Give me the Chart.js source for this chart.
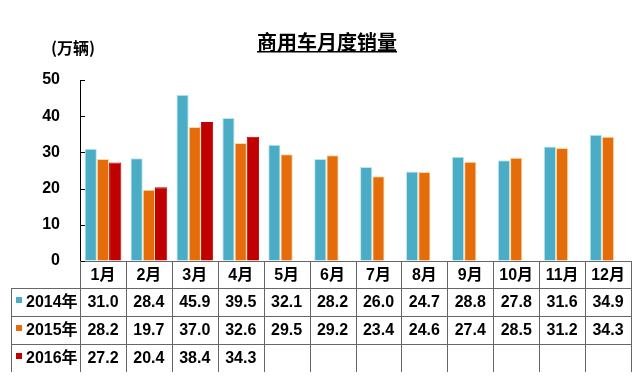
<!DOCTYPE html>
<html>
<head>
<meta charset="utf-8">
<script src="https://cdn.jsdelivr.net/npm/chart.js@4/dist/chart.umd.min.js"></script>
<style>
    html, body { margin: 0; padding: 0; background: #fff; }
    canvas { display: block; }
</style>
</head>
<body>
<canvas id="chart" width="640" height="379"></canvas>
<script>
var months = ['1月', '2月', '3月', '4月', '5月', '6月', '7月', '8月', '9月', '10月', '11月', '12月'];
var years = ['2014年', '2015年', '2016年'];
var sales2014 = [31.0, 28.4, 45.9, 39.5, 32.1, 28.2, 26.0, 24.7, 28.8, 27.8, 31.6, 34.9];
var sales2015 = [28.2, 19.7, 37.0, 32.6, 29.5, 29.2, 23.4, 24.6, 27.4, 28.5, 31.2, 34.3];
var sales2016 = [27.2, 20.4, 38.4, 34.3, null, null, null, null, null, null, null, null];
var yTicks = [0, 10, 20, 30, 40, 50];

var colors = ['#4BACC6', '#E46C0A', '#C00000'];
var edges = ['#bfe6ee', '#f6dca6', '#c00000'];
var font = '"Liberation Sans", "Noto Sans CJK SC", sans-serif';

// title, unit label, inward ticks and the data table under the bars
var decorations =
{
    id: 'decorations',
    afterDraw: function (chart)
    {
        var ctx = chart.ctx, x = chart.scales.x, y = chart.scales.y, area = chart.chartArea;
        var series = [sales2014, sales2015, sales2016];

        ctx.save();
        ctx.fillStyle = '#000';
        ctx.textBaseline = 'middle';

        ctx.font = 'bold 20px "Noto Sans CJK SC", sans-serif';
        ctx.textAlign = 'center';
        ctx.fillText('商用车月度销量', 327, 42);
        var w = ctx.measureText('商用车月度销量').width;
        ctx.fillRect(327 - w / 2, 51, w, 1.5);

        ctx.font = 'bold 16px "Noto Sans CJK SC", sans-serif';
        ctx.fillText('(万辆)', 73, 48);

        ctx.strokeStyle = '#000';
        ctx.lineWidth = 1;
        yTicks.forEach(function (v)
        {
            var py = Math.round(y.getPixelForValue(v)) + 0.5;
            ctx.beginPath();
            ctx.moveTo(area.left, py);
            ctx.lineTo(area.left + 5, py);
            ctx.stroke();
        });

        var rows = [area.bottom, 288, 316, 344, 372];
        var half = (x.getPixelForValue(1) - x.getPixelForValue(0)) / 2;

        ctx.strokeStyle = '#666';
        for (var r = 1; r < 4; r++)
        {
            ctx.beginPath();
            ctx.moveTo(11, rows[r] + 0.5);
            ctx.lineTo(area.right, rows[r] + 0.5);
            ctx.stroke();
        }

        ctx.beginPath();
        ctx.moveTo(11.5, rows[1]);
        ctx.lineTo(11.5, rows[4]);
        for (var i = 0; i <= months.length; i++)
        {
            var bx = Math.round(x.getPixelForValue(i) - half) + 0.5;
            ctx.moveTo(bx, rows[0]);
            ctx.lineTo(bx, rows[4]);
        }
        ctx.stroke();

        ctx.font = 'bold 16px ' + font;
        ctx.textAlign = 'center';
        months.forEach(function (m, i)
        {
            var cx = x.getPixelForValue(i);
            ctx.fillText(m, cx, (rows[0] + rows[1]) / 2 + 1);

            series.forEach(function (s, k)
            {
                if (s[i] != null) ctx.fillText(s[i].toFixed(1), cx, (rows[k + 1] + rows[k + 2]) / 2 + 1);
            });
        });

        ctx.textAlign = 'left';
        years.forEach(function (label, k)
        {
            ctx.fillStyle = colors[k];
            ctx.fillRect(16, rows[k + 1] + 9, 6, 6);
            ctx.fillStyle = '#000';
            ctx.fillText(label, 26, (rows[k + 1] + rows[k + 2]) / 2 + 1);
        });

        ctx.restore();
    }
};

function dataset(label, values, k)
{
    return {
        label: label,
        data: values,
        backgroundColor: colors[k],
        borderColor: edges[k],
        borderWidth: 1,
        categoryPercentage: 0.8,
        barPercentage: 1.0
    };
}

new Chart(document.getElementById('chart'),
{
    type: 'bar',
    data:
    {
        labels: months,
        datasets: [
            dataset(years[0], sales2014, 0),
            dataset(years[1], sales2015, 1),
            dataset(years[2], sales2016, 2)
        ]
    },
    options:
    {
        responsive: false,
        animation: false,
        devicePixelRatio: 1,
        layout: { padding: { top: 80, right: 9, bottom: 0, left: 0 } },
        plugins: { legend: { display: false }, tooltip: { enabled: false } },
        scales:
        {
            x:
            {
                grid: { display: false },
                border: { display: true, color: '#666', width: 1 },
                ticks: { display: false },
                afterFit: function (scale) { scale.height = 118; }
            },
            y:
            {
                min: 0,
                max: 50,
                grid: { drawOnChartArea: false, drawTicks: false },
                border: { display: true, color: '#000', width: 1 },
                ticks:
                {
                    stepSize: 10,
                    padding: 20,
                    color: '#000',
                    font: { family: font, size: 16, weight: 'bold' }
                },
                afterFit: function (scale) { scale.width = 80; }
            }
        }
    },
    plugins: [decorations]
});
</script>
</body>
</html>
